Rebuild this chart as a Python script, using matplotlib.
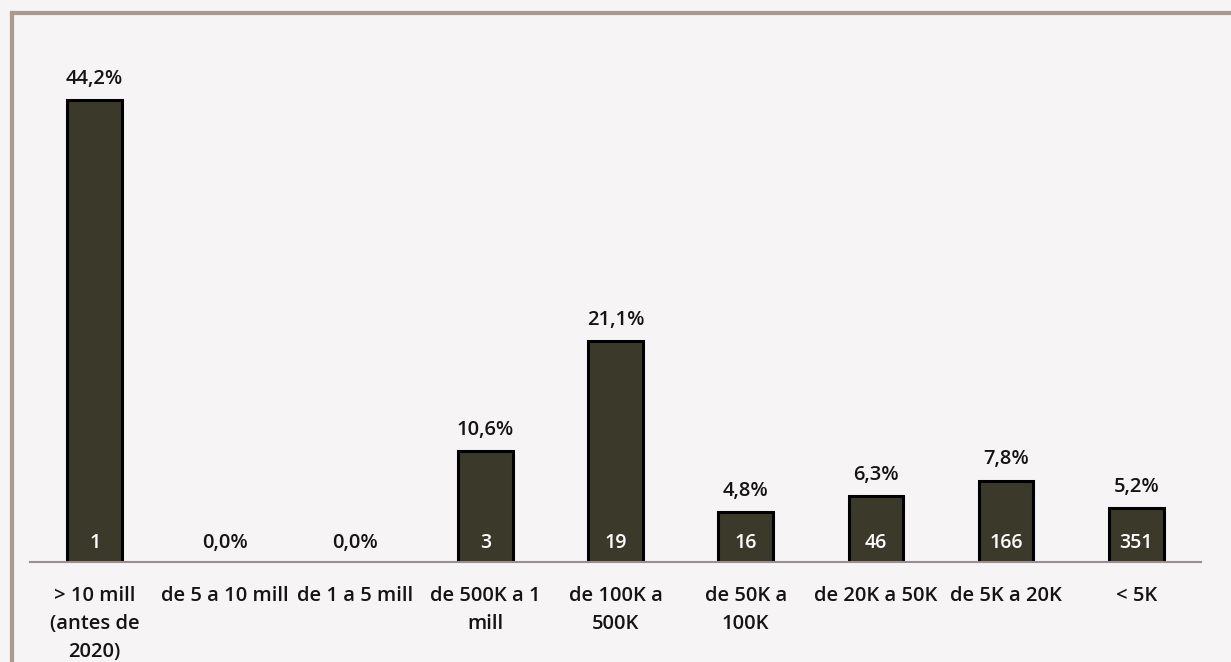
import matplotlib.pyplot as plt
from matplotlib.lines import Line2D

# data
categories = ["> 10 mill\n(antes de\n2020)", "de 5 a 10 mill", "de 1 a 5 mill",
              "de 500K a 1\nmill", "de 100K a\n500K", "de 50K a\n100K",
              "de 20K a 50K", "de 5K a 20K", "< 5K"]
shares = [44.2, 0.0, 0.0, 10.6, 21.1, 4.8, 6.3, 7.8, 5.2]
counts = [1, 0, 0, 3, 19, 16, 46, 166, 351]

BG = "#f6f4f4"
BAR = "#3b3929"
TXT = "#141414"
FS = 14.5
WT = "semibold"

plt.rcParams["font.family"] = ["Open Sans", "DejaVu Sans"]

fig = plt.figure(figsize=(12.31, 6.62), dpi=100, facecolor=BG)
ax = fig.add_axes([0.024, 0.151, 0.952, 0.829])
ax.set_facecolor(BG)

x = list(range(len(categories)))
# zero shares have no bar in the original
bx = [xi for xi, v in zip(x, shares) if v > 0]
bh = [v for v in shares if v > 0]
ax.bar(bx, bh, width=0.42, color=BAR, edgecolor="black", linewidth=2.2, zorder=2)

for xi, v, n in zip(x, shares, counts):
    label = f"{v:.1f}%".replace(".", ",")
    if v > 0:
        ax.annotate(label, (xi, v), xytext=(0, 8), textcoords="offset points",
                    ha="center", va="bottom", fontsize=FS, color=TXT,
                    fontweight=WT)
    else:
        ax.annotate(label, (xi, 0), xytext=(0, 14), textcoords="offset points",
                    ha="center", va="center", fontsize=FS, color=TXT,
                    fontweight=WT)
    if n > 0:
        ax.annotate(str(n), (xi, 0), xytext=(0, 14), textcoords="offset points",
                    ha="center", va="center", fontsize=FS - 0.5, color="white",
                    fontweight=WT, zorder=3)

ax.set_xlim(-0.5, len(categories) - 0.5)
ax.set_ylim(0, 52.5)
ax.set_xticks(x)
ax.set_xticklabels(categories, fontsize=FS, linespacing=1.55, color=TXT,
                   fontweight=WT)
ax.tick_params(axis="x", length=0, pad=17)
ax.set_yticks([])
for side in ["top", "right", "left"]:
    ax.spines[side].set_visible(False)
ax.spines["bottom"].set_color("#9b8c97")
ax.spines["bottom"].set_linewidth(1.5)

# scanned page frame (top and left edges only)
frame = "#a89a8e"
fig.add_artist(Line2D([0.010, 1.0], [0.980, 0.980], transform=fig.transFigure,
                      color=frame, linewidth=3))
fig.add_artist(Line2D([0.010, 0.010], [0.0, 0.980], transform=fig.transFigure,
                      color=frame, linewidth=3))

fig.savefig("out.png", dpi=100, facecolor=BG)
